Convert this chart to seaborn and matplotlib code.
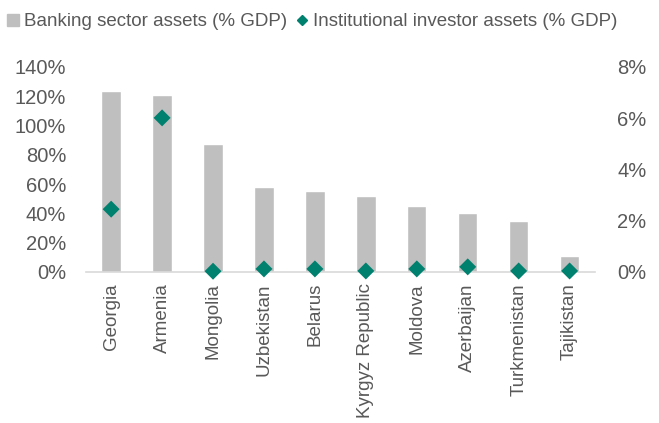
import numpy as np
import pandas as pd
import seaborn as sns
import matplotlib.pyplot as plt
from matplotlib.ticker import PercentFormatter
from matplotlib.lines import Line2D

countries = ['Georgia', 'Armenia', 'Mongolia', 'Uzbekistan', 'Belarus',
             'Kyrgyz Republic', 'Moldova', 'Azerbaijan', 'Turkmenistan', 'Tajikistan']
banking = [123.6, 120.7, 87.0, 58.0, 55.1, 52.1, 45.1, 40.3, 34.6, 11.1]
institutional = [2.45, 6.01, 0.03, 0.12, 0.12, 0.04, 0.12, 0.20, 0.04, 0.04]

df = pd.DataFrame({'country': countries, 'banking': banking, 'inst': institutional})

sns.set_style('white')
plt.rcParams['font.family'] = ['Liberation Sans', 'DejaVu Sans']
txt = '#595959'
bar_col = '#BFBFBF'
teal = '#00806E'

fig = plt.figure(figsize=(6.59, 4.23), dpi=100)
ax = fig.add_axes([0.130, 0.357, 0.773, 0.485])

sns.barplot(data=df, x='country', y='banking', color=bar_col, saturation=1,
            width=0.38, ax=ax)
ax.set_ylim(0, 140)
ax.set_yticks(np.arange(0, 141, 20))
ax.yaxis.set_major_formatter(PercentFormatter(decimals=0))
ax.set_xlabel('')
ax.set_ylabel('')
ax.tick_params(axis='x', rotation=90, labelsize=13.5, colors=txt, length=0, pad=8)
ax.tick_params(axis='y', labelsize=14.5, colors=txt, length=0, pad=14)
for s in ['top', 'right', 'left']:
    ax.spines[s].set_visible(False)
ax.spines['bottom'].set_color('#D9D9D9')
ax.spines['bottom'].set_linewidth(1.2)

# second axis for the institutional investor diamonds
ax2 = ax.twinx()
sns.scatterplot(data=df, x='country', y='inst', marker='D', s=75, color=teal,
                edgecolor='none', ax=ax2, zorder=5, clip_on=False)
ax2.set_ylim(0, 8)
ax2.set_yticks(np.arange(0, 9, 2))
ax2.yaxis.set_major_formatter(PercentFormatter(decimals=0))
ax2.set_ylabel('')
ax2.tick_params(axis='y', labelsize=14.5, colors=txt, length=0, pad=16)
for s in ax2.spines.values():
    s.set_visible(False)
ax.set_xlim(-0.5, len(countries) - 0.5)

handles = [Line2D([], [], marker='s', linestyle='none', color=bar_col, markersize=9),
           Line2D([], [], marker='D', linestyle='none', color=teal, markersize=5)]
fig.legend(handles, ['Banking sector assets (% GDP)', 'Institutional investor assets (% GDP)'],
           loc='upper left', bbox_to_anchor=(-0.01, 1.0), ncol=2, frameon=False,
           fontsize=13.5, labelcolor=txt, handletextpad=0.25, columnspacing=0.4,
           handlelength=0.7, borderaxespad=0.3)

fig.savefig('out.png', dpi=100)
